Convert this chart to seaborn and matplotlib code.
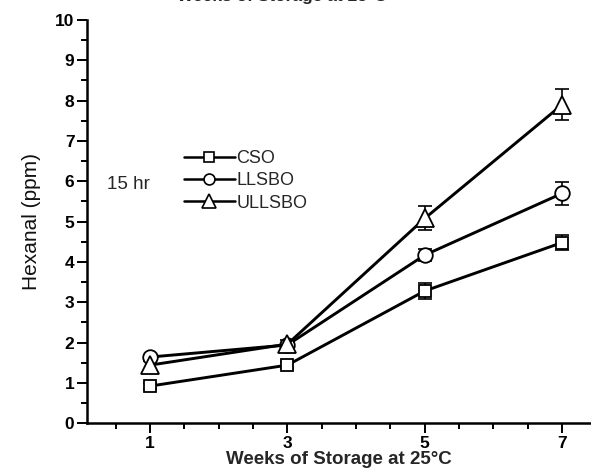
import matplotlib
matplotlib.use("Agg")
import matplotlib.pyplot as plt
import seaborn as sns
import pandas as pd
import numpy as np
from matplotlib.lines import Line2D
from matplotlib.ticker import MultipleLocator

sns.set_theme(style="ticks")
plt.rcParams['font.family'] = ['Liberation Sans', 'DejaVu Sans']

weeks = [1, 3, 5, 7]
cso = [0.92, 1.44, 3.28, 4.48]
llsbo = [1.64, 1.94, 4.17, 5.70]
ullsbo = [1.44, 1.96, 5.08, 7.90]
cso_err = [0.08, 0.08, 0.19, 0.18]
llsbo_err = [0.06, 0.05, 0.15, 0.29]
ullsbo_err = [0.10, 0.10, 0.30, 0.38]
series_names = ["CSO", "LLSBO", "ULLSBO"]
markers = {"CSO": "s", "LLSBO": "o", "ULLSBO": "^"}
msizes = {"CSO": 9, "LLSBO": 10.5, "ULLSBO": 13.5}

df = pd.DataFrame({
    "week": weeks * 3,
    "value": cso + llsbo + ullsbo,
    "err": cso_err + llsbo_err + ullsbo_err,
    "series": sum([[n] * len(weeks) for n in series_names], []),
})

fig = plt.figure(figsize=(5.91, 4.76), dpi=100)
ax = fig.add_axes([0.147, 0.111, 0.853, 0.847])

for name in series_names:
    sub = df[df.series == name]
    ax.errorbar(sub.week, sub.value, yerr=sub.err, fmt="none", ecolor="black",
                elinewidth=1.2, capsize=5, capthick=1.2, zorder=2)

sns.lineplot(data=df, x="week", y="value", hue="series", style="series",
             palette=["black"] * 3, dashes=False, markers=markers,
             ax=ax, legend=False, linewidth=2.1, zorder=3)
for line, name in zip(ax.get_lines()[-3:], series_names):
    line.set_marker(markers[name])
    line.set_markersize(msizes[name])
    line.set_markerfacecolor("white")
    line.set_markeredgecolor("black")
    line.set_markeredgewidth(1.3)

ax.set_xlim(0.08, 7.42)
ax.set_ylim(0, 10)
ax.set_xticks([1, 3, 5, 7])
ax.xaxis.set_minor_locator(MultipleLocator(0.5))
ax.set_yticks(range(0, 11))
ax.yaxis.set_minor_locator(MultipleLocator(0.5))
ax.tick_params(axis="both", which="major", length=7, width=1.4, direction="out",
               labelsize=12.5, color="black", labelcolor="black", pad=2)
ax.tick_params(axis="both", which="minor", length=4, width=1.4, direction="out",
               color="black")
for lab in ax.get_xticklabels() + ax.get_yticklabels():
    lab.set_fontweight("bold")

ax.spines["top"].set_visible(False)
ax.spines["right"].set_visible(False)
for s in ["left", "bottom"]:
    ax.spines[s].set_linewidth(1.8)
    ax.spines[s].set_color("black")

ax.set_xlabel("Weeks of Storage at 25°C", fontsize=13.5, fontweight="bold", labelpad=0)
ax.set_ylabel("Hexanal (ppm)", fontsize=15, labelpad=10, color="#111111")
ax.grid(False)

handles = [Line2D([0], [0], color="black", lw=1.8, marker=markers[n], markersize=msizes[n] * 0.75,
                  markerfacecolor="white", markeredgecolor="black", markeredgewidth=1.2)
           for n in series_names]
leg = ax.legend(handles, series_names, loc="upper left", bbox_to_anchor=(0.175, 0.70),
                frameon=False, fontsize=13, handlelength=2.8, handletextpad=0.1,
                labelspacing=0.3, borderpad=0)
ax.text(0.04, 0.593, "15 hr", transform=ax.transAxes, fontsize=13.5, va="center", ha="left")

fig.text(0.477, 1.008, "Weeks of Storage at 25°C", fontsize=12.5, fontweight="bold",
         ha="center", va="center")

fig.savefig("out.png", dpi=100, facecolor="white")
